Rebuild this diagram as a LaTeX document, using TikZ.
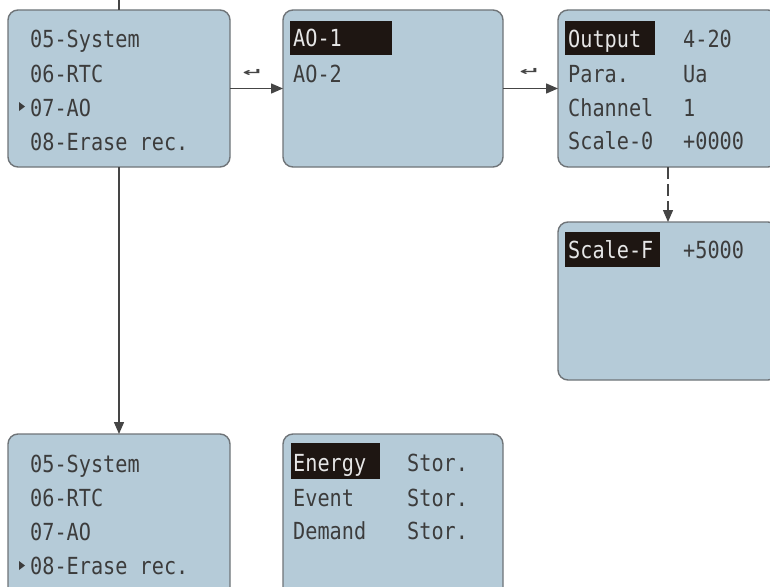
\documentclass[tikz,border=0pt]{standalone}
\usepackage{fontspec}
\usetikzlibrary{arrows.meta}
\newfontfamily\lcdfont[FakeStretch=0.86]{DejaVu Sans Mono}
\newfontfamily\symfont{DejaVu Sans}
\definecolor{lcdbg}{HTML}{B5CBD8}
\definecolor{lcdedge}{HTML}{6F7478}
\definecolor{lcdtext}{HTML}{3C3C3C}
\definecolor{hlbg}{HTML}{1E1612}
\definecolor{hltext}{HTML}{E6E6E6}
\definecolor{wire}{HTML}{454545}
\begin{document}
\begin{tikzpicture}[x=1pt,y=-1pt,
  screen/.style={draw=lcdedge, line width=1.4pt, fill=lcdbg, rounded corners=10pt,
    anchor=north west, inner sep=0pt, outer sep=0pt, minimum width=222pt, minimum height=157pt},
  hl/.style={fill=hlbg, anchor=north west, inner sep=0pt, outer sep=0pt},
  txt/.style={anchor=base west, inner sep=0pt, text=lcdtext, font=\lcdfont\fontsize{23.5}{28}\selectfont},
  hltxt/.style={txt, text=hltext},
  link/.style={draw=wire, line width=1.4pt, -{Triangle[length=12pt,width=10pt]}},
  plain/.style={draw=wire, line width=1.4pt},
  ret/.style={text=wire, inner sep=0pt, font=\symfont\bfseries\fontsize{25}{25}\selectfont}]
\clip (0,0) rectangle (770,586);
\fill[white] (0,0) rectangle (770,586);
% screens
\node[screen] (s1) at (8,10) {};
\node[screen, minimum width=220pt] (s2) at (283,10) {};
\node[screen, minimum width=220pt] (s3) at (558,10) {};
\node[screen, minimum width=220pt, minimum height=158pt] (s4) at (558,222) {};
\node[screen, minimum height=170pt] (b1) at (8,434) {};
\node[screen, minimum width=220pt, minimum height=170pt] (b2) at (283,434) {};
% connectors
\coordinate (topstub) at (119,0);
\draw[plain] (topstub) -- (s1.north);
\draw[link] (s1.east) -- (s2.west);
\draw[link] (s2.east) -- (s3.west);
\draw[link, dash pattern=on 12pt off 5pt] (s3.south) -- (s4.north);
\draw[link] (s1.south) -- (b1.north);
\node[ret] (r1) at (253,73) {\scalebox{1}[0.45]{↵}};
\node[ret] (r2) at (530,72) {\scalebox{1}[0.45]{↵}};
% screen 1
\node[txt] (t11) at (30,48) {05-System};
\node[txt] (t12) at (30,82) {06-RTC};
\node[txt] (t13) at (30,116) {07-AO};
\node[txt] (t14) at (30,150) {08-Erase rec.};
\fill[lcdtext] (19,102) -- (25,106.5) -- (19,111) -- cycle;
% screen 2
\node[hl, minimum width=102pt, minimum height=34pt] (h2) at (290,21) {};
\node[hltxt] (t21) at (293,47) {AO-1};
\node[txt] (t22) at (293,82) {AO-2};
% screen 3
\node[hl, minimum width=90pt, minimum height=34pt] (h3) at (565,21) {};
\node[hltxt] (t31) at (568,48) {Output};
\node[txt] (t32) at (683,48) {4-20};
\node[txt] (t33) at (568,82) {Para.};
\node[txt] (t34) at (683,82) {Ua};
\node[txt] (t35) at (568,116) {Channel};
\node[txt] (t36) at (683,116) {1};
\node[txt] (t37) at (568,149) {Scale-0};
\node[txt] (t38) at (683,149) {+0000};
% screen 4
\node[hl, minimum width=95pt, minimum height=35pt] (h4) at (565,232) {};
\node[hltxt] (t41) at (568,258) {Scale-F};
\node[txt] (t42) at (683,258) {+5000};
% bottom screen 1
\node[txt] (u11) at (30,472) {05-System};
\node[txt] (u12) at (30,506) {06-RTC};
\node[txt] (u13) at (30,540) {07-AO};
\node[txt] (u14) at (30,574) {08-Erase rec.};
\fill[lcdtext] (19,561) -- (25,565.5) -- (19,570) -- cycle;
% bottom screen 2
\node[hl, minimum width=89pt, minimum height=36pt] (h6) at (291,443) {};
\node[hltxt] (u21) at (293,471) {Energy};
\node[txt] (u22) at (407,471) {Stor.};
\node[txt] (u23) at (293,506) {Event};
\node[txt] (u24) at (407,506) {Stor.};
\node[txt] (u25) at (293,539) {Demand};
\node[txt] (u26) at (407,539) {Stor.};
\end{tikzpicture}
\end{document}
